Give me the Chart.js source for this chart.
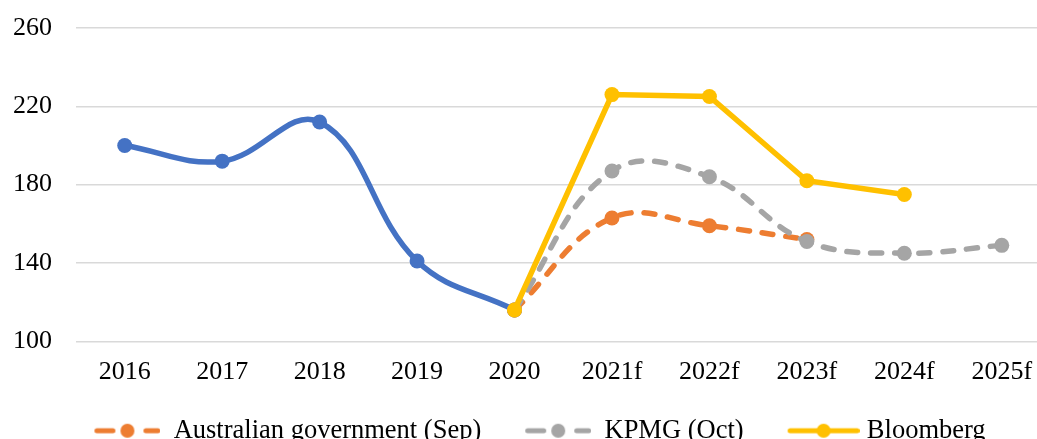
<!DOCTYPE html>
<html>
<head>
<meta charset="utf-8">
<script src="https://cdn.jsdelivr.net/npm/chart.js@4.4.0/dist/chart.umd.min.js"></script>
<style>
  html, body { margin: 0; padding: 0; background: #fff; overflow: hidden; }
  #wrap { position: relative; width: 1058px; height: 454px; }
</style>
</head>
<body>
<div id="wrap"><canvas id="chart"></canvas></div>
<script>
// ── Data ──
const years = ['2016', '2017', '2018', '2019', '2020', '2021f', '2022f', '2023f', '2024f', '2025f'];
const history = [200, 192, 212, 141, 116, null, null, null, null, null];
const ausGov = [null, null, null, null, 116, 163, 159, 152, null, null];
const kpmg = [null, null, null, null, 116, 187, 184, 151, 145, 149];
const bloomberg = [null, null, null, null, 116, 226, 225, 182, 175, null];
const yTicks = [100, 140, 180, 220, 260];

const colors = {
    blue: '#4472c4',
    orange: '#ed7d31',
    gray: '#a5a5a5',
    gold: '#ffc000',
    grid: '#d9d9d9',
    text: '#000000'
};

const FONT = "'Liberation Serif', 'Times New Roman', serif";

// ── Legend markers (line + dot), drawn once into small canvases ──
function makeMarker(color, dashed) {
    const c = document.createElement('canvas');
    c.width = dashed ? 100 : 112;
    c.height = 18;
    const g = c.getContext('2d');
    g.strokeStyle = color;
    g.fillStyle = color;
    g.lineWidth = 5;
    g.lineCap = 'round';
    const cy = 9;
    g.beginPath();
    if (dashed) {
        g.moveTo(36.5, cy); g.lineTo(52.5, cy);
        g.moveTo(85.5, cy); g.lineTo(97.5, cy);
    } else {
        g.moveTo(42.5, cy); g.lineTo(109.5, cy);
    }
    g.stroke();
    g.beginPath();
    g.arc(dashed ? 67 : 76, cy, 7, 0, Math.PI * 2);
    g.fill();
    return c;
}

const markers = {
    1: makeMarker(colors.orange, true),
    2: makeMarker(colors.gray, true),
    3: makeMarker(colors.gold, false)
};

// nudge the legend a little to the left, as in the original
const legendShift = {
    id: 'legendShift',
    afterLayout(chart) {
        chart.legend.left -= 12.5;
        chart.legend.right -= 12.5;
    }
};

Chart.defaults.font.family = FONT;
Chart.defaults.font.size = 26;
Chart.defaults.color = colors.text;

const dash = [11, 13];

new Chart(document.getElementById('chart'), {
    type: 'line',
    data: {
        labels: years,
        datasets: [{
            label: 'Historical',
            data: history,
            borderColor: colors.blue,
            backgroundColor: colors.blue,
            borderWidth: 5.5,
            tension: 0.4,
            pointRadius: 7.5,
            pointBorderWidth: 0,
            order: 3
        }, {
            label: 'Australian government (Sep)',
            data: ausGov,
            borderColor: colors.orange,
            backgroundColor: colors.orange,
            borderWidth: 5.5,
            borderDash: dash,
            borderCapStyle: 'round',
            tension: 0.4,
            pointRadius: 7.5,
            pointBorderWidth: 0,
            order: 2
        }, {
            label: 'KPMG (Oct)',
            data: kpmg,
            borderColor: colors.gray,
            backgroundColor: colors.gray,
            borderWidth: 5.5,
            borderDash: dash,
            borderCapStyle: 'round',
            tension: 0.4,
            pointRadius: 7.5,
            pointBorderWidth: 0,
            order: 1
        }, {
            label: 'Bloomberg',
            data: bloomberg,
            borderColor: colors.gold,
            backgroundColor: colors.gold,
            borderWidth: 5.5,
            tension: 0,
            pointRadius: 7.5,
            pointBorderWidth: 0,
            order: 0
        }]
    },
    options: {
        responsive: true,
        maintainAspectRatio: false,
        animation: false,
        layout: { padding: { left: 13, right: 0, top: 28, bottom: 0 } },
        plugins: {
            tooltip: { enabled: false },
            legend: {
                position: 'bottom',
                labels: {
                    usePointStyle: true,
                    pointStyleWidth: 100,
                    padding: 10,
                    font: { size: 26.5 },
                    generateLabels(chart) {
                        const items = Chart.defaults.plugins.legend.labels.generateLabels(chart);
                        return items
                            .filter(i => i.datasetIndex !== 0)
                            .sort((a, b) => a.datasetIndex - b.datasetIndex)
                            .map(i => { i.pointStyle = markers[i.datasetIndex]; return i; });
                    }
                },
                onClick: null
            }
        },
        scales: {
            x: {
                offset: true,
                grid: { display: false, drawTicks: false },
                border: { display: false },
                ticks: { padding: 15.5, maxRotation: 0, autoSkip: false },
                afterFit(axis) { axis.height += 4; }
            },
            y: {
                min: 100,
                max: 260,
                afterBuildTicks(axis) { axis.ticks = yTicks.map(v => ({ value: v })); },
                afterFit(axis) {
                    axis.width = 63;
                    axis.paddingTop = 0;
                    axis.paddingBottom = 0;
                },
                grid: { color: colors.grid, lineWidth: 1.5, drawTicks: false },
                border: { display: false },
                ticks: { padding: 24 }
            }
        }
    },
    plugins: [legendShift]
});
</script>
</body>
</html>
